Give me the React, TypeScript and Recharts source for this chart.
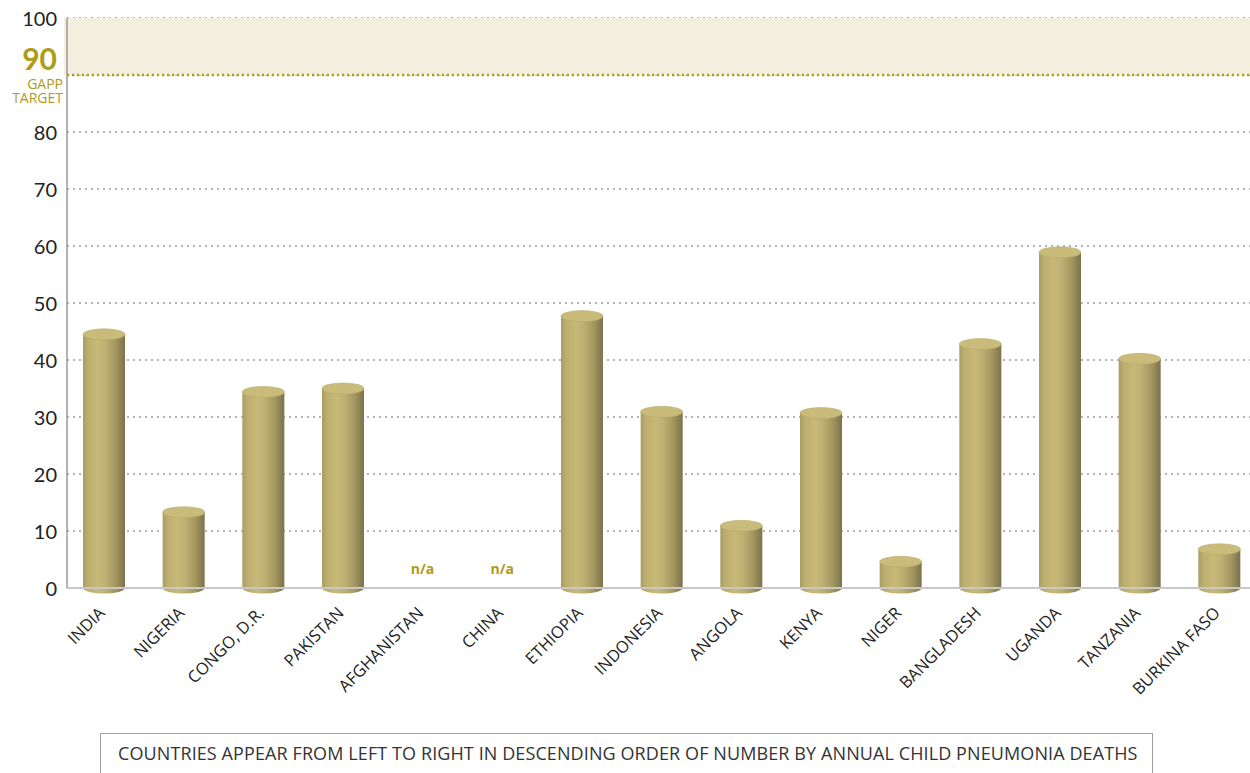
import React from "react";
import {
  ComposedChart,
  Bar,
  XAxis,
  YAxis,
  CartesianGrid,
  ReferenceArea,
  ReferenceLine,
} from "recharts";

const countries = [
  "INDIA",
  "NIGERIA",
  "CONGO, D.R.",
  "PAKISTAN",
  "AFGHANISTAN",
  "CHINA",
  "ETHIOPIA",
  "INDONESIA",
  "ANGOLA",
  "KENYA",
  "NIGER",
  "BANGLADESH",
  "UGANDA",
  "TANZANIA",
  "BURKINA FASO",
];

const coverage: (number | null)[] = [
  44.5, 13.3, 34.4, 35.0, null, null, 47.7, 30.9, 10.9, 30.7, 4.6, 42.8, 58.9, 40.2, 6.8,
];

const yTicks = [0, 10, 20, 30, 40, 50, 60, 70, 80, 90, 100];
const targetValue = 90;
const targetLines = ["GAPP", "TARGET"];
const naText = "n/a";
const noteText =
  "COUNTRIES APPEAR FROM LEFT TO RIGHT IN DESCENDING ORDER OF NUMBER BY ANNUAL CHILD PNEUMONIA DEATHS";

const data = countries.map((c, i) => ({ country: c, value: coverage[i] }));

const GOLD = "#b09a1a";

const Cylinder = (props: any) => {
  const { x, y, width, height } = props;
  if (height == null || width == null || isNaN(height)) return null;
  const rx = width / 2;
  const ry = 5.5;
  const cx = x + rx;
  const bottom = y + height;
  const d = `M ${x},${y} L ${x},${bottom} A ${rx} ${ry} 0 0 0 ${x + width},${bottom} L ${x + width},${y} Z`;
  return (
    <g>
      <path d={d} fill="url(#cylGrad)" />
      <ellipse cx={cx} cy={y} rx={rx} ry={ry} fill="#c9bb79" stroke="#b8aa6a" strokeWidth={0.6} />
    </g>
  );
};

const YTick = (props: any) => {
  const { y, payload } = props;
  const v = payload.value;
  if (v === targetValue) {
    return (
      <g>
        <text
          x={57}
          y={y - 17}
          textAnchor="end"
          dominantBaseline="central"
          fontFamily="Lato, sans-serif"
          fontWeight={700}
          fontSize={30}
          fill={GOLD}
        >
          {v}
        </text>
        <text
          x={63}
          y={y + 14}
          textAnchor="end"
          fontFamily="'Open Sans', sans-serif"
          fontSize={14}
          fill={GOLD}
        >
          <tspan x={63} dy={0}>{targetLines[0]}</tspan>
          <tspan x={63} dy={13.5}>{targetLines[1]}</tspan>
        </text>
      </g>
    );
  }
  return (
    <text
      x={57}
      y={y}
      textAnchor="end"
      dominantBaseline="central"
      fontFamily="Lato, sans-serif"
      fontSize={20}
      fill="#222"
    >
      {v}
    </text>
  );
};

const XTick = (props: any) => {
  const { x, y, payload, index } = props;
  const val = coverage[index];
  return (
    <g>
      {val == null && (
        <text
          x={x}
          y={y - 28}
          textAnchor="middle"
          dominantBaseline="central"
          fontFamily="'Open Sans', sans-serif"
          fontWeight={700}
          fontSize={14}
          fill={GOLD}
        >
          {naText}
        </text>
      )}
      <g transform={`translate(${x + 2},${y + 18})`}>
        <text
          x={0}
          y={0}
          transform="rotate(-45)"
          textAnchor="end"
          fontFamily="'Open Sans', sans-serif"
          fontSize={16.5}
          fill="#222"
        >
          {payload.value}
        </text>
      </g>
    </g>
  );
};

export default function App() {
  return (
    <div style={{ position: "absolute", left: 0, top: 0, width: 1250, height: 773, background: "#fff", overflow: "hidden" }}>
      <ComposedChart
        width={1250}
        height={773}
        data={data}
        margin={{ top: 18, right: 0, left: 0, bottom: 65 }}
        barCategoryGap={37}
      >
        <defs>
          <linearGradient id="cylGrad" x1="0" y1="0" x2="1" y2="0">
            <stop offset="0%" stopColor="#a89c62" />
            <stop offset="12%" stopColor="#bcae6e" />
            <stop offset="35%" stopColor="#c8b978" />
            <stop offset="55%" stopColor="#bdaf72" />
            <stop offset="78%" stopColor="#a3965f" />
            <stop offset="100%" stopColor="#7c724c" />
          </linearGradient>
        </defs>
        <ReferenceArea y1={90} y2={100} fill="#f3efdf" fillOpacity={1} stroke="none" ifOverflow="visible" />
        <CartesianGrid vertical={false} stroke="#9a9a9a" strokeDasharray="2 4" strokeWidth={1.5} />
        <ReferenceLine y={targetValue} stroke={GOLD} strokeDasharray="2 3" strokeWidth={2.5} />
        <XAxis
          dataKey="country"
          interval={0}
          tickLine={false}
          axisLine={{ stroke: "#c8c8c8", strokeWidth: 2 }}
          tick={<XTick />}
          height={120}
          padding={{ left: -3, right: -9 }}
        />
        <YAxis
          domain={[0, 100]}
          ticks={yTicks}
          width={67}
          tickLine={false}
          axisLine={{ stroke: "#999", strokeWidth: 1.5 }}
          tick={<YTick />}
        />
        <Bar dataKey="value" barSize={42} shape={<Cylinder />} isAnimationActive={false} />
      </ComposedChart>
      <div
        style={{
          position: "absolute",
          left: 100,
          top: 733,
          width: 1053,
          height: 60,
          border: "1px solid #a0a0a0",
          boxSizing: "border-box",
          fontFamily: "'Open Sans', sans-serif",
          fontSize: 18,
          letterSpacing: 0.1,
          color: "#333",
          paddingLeft: 17,
          paddingTop: 7,
          whiteSpace: "nowrap",
        }}
      >
        {noteText}
      </div>
    </div>
  );
}
